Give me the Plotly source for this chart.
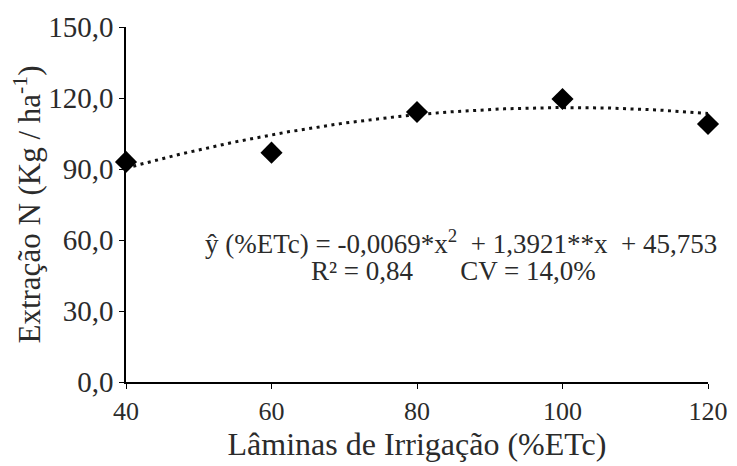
import numpy as np
import plotly.graph_objects as go

# Data
laminas = [40, 60, 80, 100, 120]
extracao_n = [93.0, 96.9, 114.1, 119.6, 109.0]

# Regression coefficients shown on the chart (a*x^2 + b*x + c)
coef_a = -0.0069
coef_b = 1.3921
coef_c = 45.753

y_tickvals = [0, 30, 60, 90, 120, 150]
y_ticktext = ["0,0", "30,0", "60,0", "90,0", "120,0", "150,0"]
x_tickvals = [40, 60, 80, 100, 120]

xt = np.linspace(40, 120, 161)
yt = coef_a * xt**2 + coef_b * xt + coef_c

FONT = "Liberation Serif, Times New Roman, serif"
TXT = "#2b2b2b"

fig = go.Figure()
fig.add_trace(go.Scatter(x=xt, y=yt, mode="lines",
                         line=dict(color="#111", width=3, dash="3px,4.5px"),
                         hoverinfo="skip", showlegend=False))
fig.add_trace(go.Scatter(x=laminas, y=extracao_n, mode="markers",
                         marker=dict(symbol="diamond", size=17, color="black"),
                         showlegend=False, cliponaxis=False))

fig.add_annotation(x=86.0, y=59, xref="x", yref="y", showarrow=False,
                   text="ŷ (%ETc) = -0,0069*x<sup>2</sup>  + 1,3921**x  + 45,753",
                   font=dict(family=FONT, size=27, color=TXT))
fig.add_annotation(x=85, y=47, xref="x", yref="y", showarrow=False,
                   text="R² = 0,84       CV = 14,0%",
                   font=dict(family=FONT, size=27, color=TXT))

fig.update_layout(
    width=729, height=458,
    margin=dict(l=118, r=29, t=19, b=84, autoexpand=False),
    paper_bgcolor="white", plot_bgcolor="white",
    font=dict(family=FONT, color=TXT),
    showlegend=False,
)
fig.update_xaxes(range=[40, 120], tickvals=x_tickvals,
                 showgrid=False, zeroline=False,
                 showline=True, linecolor="black", linewidth=1.5,
                 ticks="outside", ticklen=5, tickcolor="black",
                 tickfont=dict(family=FONT, size=26, color=TXT),
                 title=dict(text="Lâminas de Irrigação (%ETc)",
                            font=dict(family=FONT, size=32, color=TXT), standoff=0))
fig.update_yaxes(range=[0, 150], tickvals=y_tickvals, ticktext=y_ticktext,
                 showgrid=False, zeroline=False,
                 showline=True, linecolor="black", linewidth=1.5,
                 ticks="outside", ticklen=5, tickcolor="black",
                 tickfont=dict(family=FONT, size=29, color=TXT),
                 title=dict(text="Extração N (Kg / ha<sup>-1</sup>)",
                            font=dict(family=FONT, size=31, color=TXT), standoff=2))

fig.write_html("out.html")
